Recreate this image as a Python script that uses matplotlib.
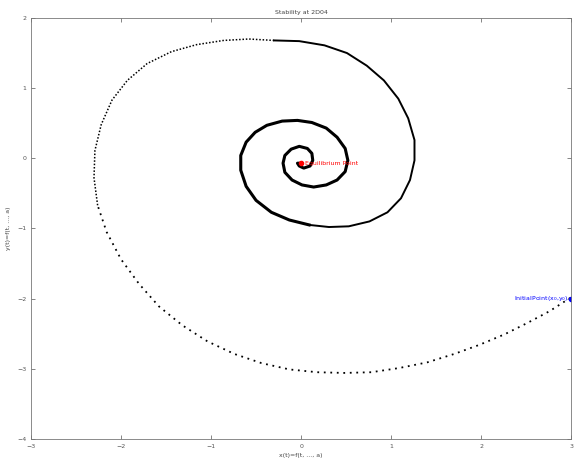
import numpy as np
import matplotlib
matplotlib.use('Agg')
import matplotlib.pyplot as plt

# trajectory starting at the initial point, sampled points along the spiral
# lower arc (sparse samples)
x_low = [2.99, 2.76, 2.51, 2.26, 1.98, 1.70, 1.40, 1.09, 0.78, 0.48, 0.18,
         -0.13, -0.44, -0.74, -1.04, -1.32, -1.58, -1.80, -2.00, -2.16, -2.26]
y_low = [-1.99, -2.18, -2.35, -2.51, -2.66, -2.79, -2.91, -2.99, -3.05, -3.06, -3.05,
         -3.01, -2.92, -2.79, -2.61, -2.38, -2.11, -1.79, -1.44, -1.05, -0.67]

# left and top arc
x_top = [-2.26, -2.30, -2.29, -2.22, -2.10, -1.93, -1.71, -1.44, -1.16, -0.86,
         -0.58, -0.30]
y_top = [-0.67, -0.28, 0.11, 0.48, 0.83, 1.11, 1.35, 1.52, 1.62, 1.68,
         1.70, 1.68]

# right arc of the big loop
x_mid = [-0.30, -0.02, 0.26, 0.51, 0.73, 0.92, 1.08, 1.19, 1.26, 1.26,
         1.21, 1.11, 0.96, 0.76, 0.53, 0.31, 0.09]
y_mid = [1.68, 1.67, 1.61, 1.50, 1.32, 1.11, 0.85, 0.57, 0.26, -0.03,
         -0.31, -0.57, -0.77, -0.90, -0.97, -0.98, -0.95]

# inner loops converging to the equilibrium
x_in = [0.09, -0.13, -0.33, -0.50, -0.61, -0.67, -0.67, -0.61, -0.51, -0.38,
        -0.21, -0.04, 0.12, 0.28, 0.40, 0.49, 0.52, 0.49, 0.40, 0.28,
        0.14, 0.01, -0.10, -0.18, -0.20, -0.18, -0.11, -0.02, 0.07, 0.12,
        0.13, 0.10, 0.03, -0.02, -0.04, -0.01]
y_in = [-0.95, -0.88, -0.77, -0.60, -0.40, -0.17, 0.04, 0.23, 0.37, 0.47,
        0.53, 0.54, 0.51, 0.43, 0.30, 0.14, -0.03, -0.19, -0.31, -0.38,
        -0.41, -0.38, -0.31, -0.20, -0.07, 0.04, 0.13, 0.17, 0.14, 0.07,
        -0.03, -0.11, -0.14, -0.11, -0.07, -0.07]

x0, y0 = 3.0, -2.0
xe, ye = 0.0, -0.07

fig = plt.figure(figsize=(5.74, 4.61), dpi=100)
ax = fig.add_axes([0.054, 0.048, 0.941, 0.913])

ax.plot(x_low, y_low, color='black', lw=1.3, linestyle=(0, (1, 2.6)))
ax.plot(x_top, y_top, color='black', lw=1.1, linestyle=(0, (1, 1.2)))
ax.plot(x_mid, y_mid, color='black', lw=1.4)
ax.plot(x_in, y_in, color='black', lw=2.2, solid_joinstyle='round')

ax.plot(x0, y0, 'o', color='blue', ms=3)
ax.text(x0 - 0.03, y0, 'InitialPoint(x$_0$,y$_0$)', color='blue',
        fontsize=4.5, ha='right', va='center')
ax.plot(xe, ye, 'o', color='red', ms=3)
ax.text(xe + 0.04, ye, 'Equilibrium Point', color='red',
        fontsize=4.5, ha='left', va='center')

ax.set_xlim(-3, 3)
ax.set_ylim(-4, 2)
ax.set_xticks(np.arange(-3, 4, 1))
ax.set_yticks(np.arange(-4, 3, 1))
ax.tick_params(direction='in', length=3, width=0.5, labelsize=4.5,
               colors='#555555', top=True, right=True)
for s in ax.spines.values():
    s.set_linewidth(0.6)
    s.set_color('#777777')

ax.set_title('Stability at 2D04', fontsize=4.5, color='#444444', pad=3)
ax.set_xlabel('x(t)=f(t, ..., a)', fontsize=4.5, color='#444444', labelpad=3)
ax.set_ylabel('y(t)=f(t, ..., a)', fontsize=4.5, color='#444444', labelpad=4)

fig.savefig('out.png', dpi=100)
